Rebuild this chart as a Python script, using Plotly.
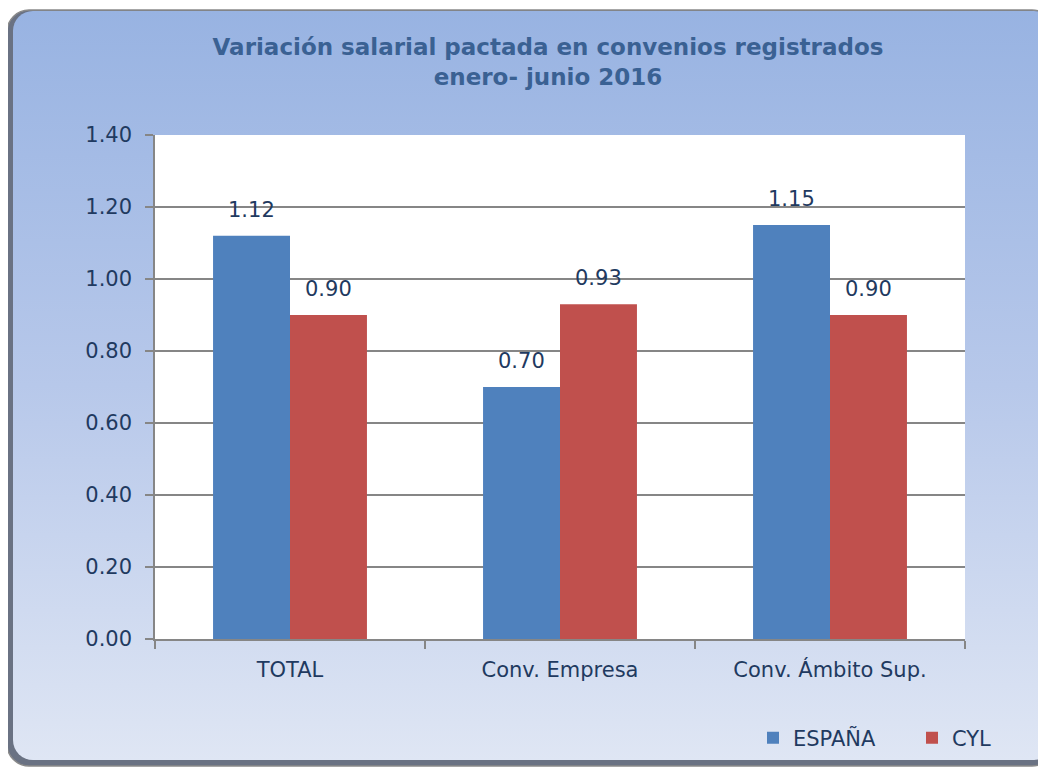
import plotly.graph_objects as go
import base64

categories = ["TOTAL", "Conv. Empresa", "Conv. Ámbito Sup."]
espana = [1.12, 0.70, 1.15]
cyl = [0.90, 0.93, 0.90]
series_names = ["ESPAÑA", "CYL"]
series_colors = ["#4F81BD", "#C0504D"]
y_ticks = [0.0, 0.2, 0.4, 0.6, 0.8, 1.0, 1.2, 1.4]

# page is 1046x769; the html body adds an 8px offset
OFF = 8
W, H = 1046 - OFF, 769 - OFF
L, T = 155 - OFF, 135 - OFF
PR, PB = 965 - OFF, 639 - OFF          # plot right / bottom in figure px
R, B = W - PR, H - PB
PW, PH = PR - L, PB - T

FONT = "DejaVu Sans"
TXT = "#1F3A60"
BARGAP = 0.43

svg = f"""<svg xmlns='http://www.w3.org/2000/svg' width='{W}' height='{H}' viewBox='0 0 {W} {H}'>
<defs>
<linearGradient id='g' x1='0' y1='0' x2='0' y2='1'>
<stop offset='0' stop-color='#98B3E2'/>
<stop offset='0.5' stop-color='#B7C8EA'/>
<stop offset='1' stop-color='#DFE6F4'/>
</linearGradient>
</defs>
<rect x='-1' y='2' width='1047' height='756' rx='22' fill='#6A7283' stroke='#8A8A8A' stroke-width='1.5'/>
<rect x='5' y='3' width='1041' height='749' rx='20' fill='url(#g)'/>
<rect x='{L}' y='{T}' width='{PW}' height='{PH}' fill='white'/>
</svg>"""
src = "data:image/svg+xml;base64," + base64.b64encode(svg.encode()).decode()

fig = go.Figure()
for name, vals, col in zip(series_names, [espana, cyl], series_colors):
    fig.add_trace(go.Bar(
        x=categories, y=vals, name=name,
        marker=dict(color=col, line=dict(width=0)),
    ))

# data labels
bw = (1 - BARGAP) / 2
annotations = []
for s, vals in enumerate([espana, cyl]):
    for i, v in enumerate(vals):
        annotations.append(dict(
            x=i + (s - 0.5) * bw, y=v, xref="x", yref="y",
            text=f"{v:.2f}", showarrow=False, yanchor="bottom", yshift=12,
            font=dict(family=FONT, size=21, color=TXT),
        ))

fig.update_layout(
    width=W, height=H,
    margin=dict(l=L, r=R, t=T, b=B, autoexpand=False),
    paper_bgcolor="white", plot_bgcolor="rgba(0,0,0,0)",
    barmode="group", bargap=BARGAP, bargroupgap=0,
    font=dict(family=FONT, size=21, color=TXT),
    title=dict(
        text="Variación salarial pactada en convenios registrados<br>enero- junio 2016",
        x=(548 - OFF) / W, xref="container", xanchor="center",
        y=1 - (55 - OFF) / H, yref="container", yanchor="middle",
        font=dict(family=FONT, size=23, color="#3A6193", weight="bold"),
    ),
    xaxis=dict(
        type="category", showgrid=False, showline=True, linecolor="#868686", linewidth=1.5,
        ticks="outside", tickson="boundaries", ticklen=8, tickcolor="#868686", tickwidth=1.5,
        ticklabelstandoff=11, tickfont=dict(family=FONT, size=21, color=TXT),
    ),
    yaxis=dict(
        range=[0, 1.4], tickvals=y_ticks, ticktext=[f"{t:.2f}" for t in y_ticks],
        showgrid=True, gridcolor="#868686", gridwidth=1.5,
        showline=True, linecolor="#868686", linewidth=1.5,
        ticks="outside", ticklen=8, tickcolor="#868686", tickwidth=1.5,
        ticklabelstandoff=9, tickfont=dict(family=FONT, size=21, color=TXT),
        zeroline=False,
    ),
    legend=dict(
        orientation="h", x=(753 - 155) / PW, xanchor="left", y=(639 - 738) / PH, yanchor="middle",
        font=dict(family=FONT, size=21, color=TXT), bgcolor="rgba(0,0,0,0)",
        entrywidth=114, entrywidthmode="pixels", itemclick=False,
    ),
    annotations=annotations,
    images=[dict(source=src, xref="paper", yref="paper",
                 x=-L / PW, y=1 + T / PH, sizex=W / PW, sizey=H / PH,
                 xanchor="left", yanchor="top", sizing="stretch", layer="below")],
)

fig.write_html("out.html")
